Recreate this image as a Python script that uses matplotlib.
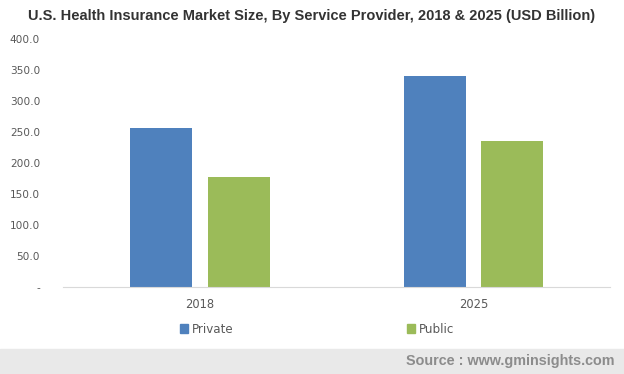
import numpy as np
import matplotlib.pyplot as plt
import matplotlib.patches as mpatches

years = ['2018', '2025']
private = [256.5, 340.5]
public = [177.5, 235.5]
yticks = [0, 50, 100, 150, 200, 250, 300, 350, 400]

fig = plt.figure(figsize=(6.24, 3.74), dpi=100)
ax = fig.add_axes([0.101, 0.2326, 0.877, 0.6631])

x = np.arange(len(years))
w = 0.227
ax.bar(x - 0.1417, private, w, color='#4f81bd', label='Private')
ax.bar(x + 0.1417, public, w, color='#9bbb59', label='Public')

ax.set_xlim(-0.5, 1.5)
ax.set_ylim(0, 400)
ax.set_yticks(yticks)
ax.set_yticklabels(['-' if v == 0 else '%.1f' % v for v in yticks])
ax.set_xticks(x)
ax.set_xticklabels(years)
ax.tick_params(axis='both', length=0, colors='#595959')
ax.tick_params(axis='y', pad=16.5, labelsize=7.6)
ax.tick_params(axis='x', pad=8, labelsize=8.3)
for s in ['top', 'right', 'left']:
    ax.spines[s].set_visible(False)
ax.spines['bottom'].set_color('#d9d9d9')

fig.text(0.5, 0.958, 'U.S. Health Insurance Market Size, By Service Provider, 2018 & 2025 (USD Billion)',
         ha='center', va='center', fontsize=10.5, fontweight='bold', color='#333333',
         family='Liberation Sans')

handles = [mpatches.Patch(color='#4f81bd', label='Private'),
           mpatches.Patch(color='#9bbb59', label='Public')]
fig.legend(handles=handles, loc='center', bbox_to_anchor=(0.508, 0.12), ncol=2, frameon=False,
           fontsize=8.6, labelcolor='#595959', handlelength=0.7, handleheight=0.7,
           handletextpad=0.3, columnspacing=14.5)

fig.patches.append(mpatches.Rectangle((0, 0), 1, 25 / 374, transform=fig.transFigure,
                                      color='#e9e9e9', zorder=0))
fig.text(0.984, 13 / 374, 'Source : www.gminsights.com', ha='right', va='center',
         fontsize=10.4, fontweight='bold', color='#8c8c8c', family='Liberation Sans')

fig.savefig('out.png', dpi=100)
